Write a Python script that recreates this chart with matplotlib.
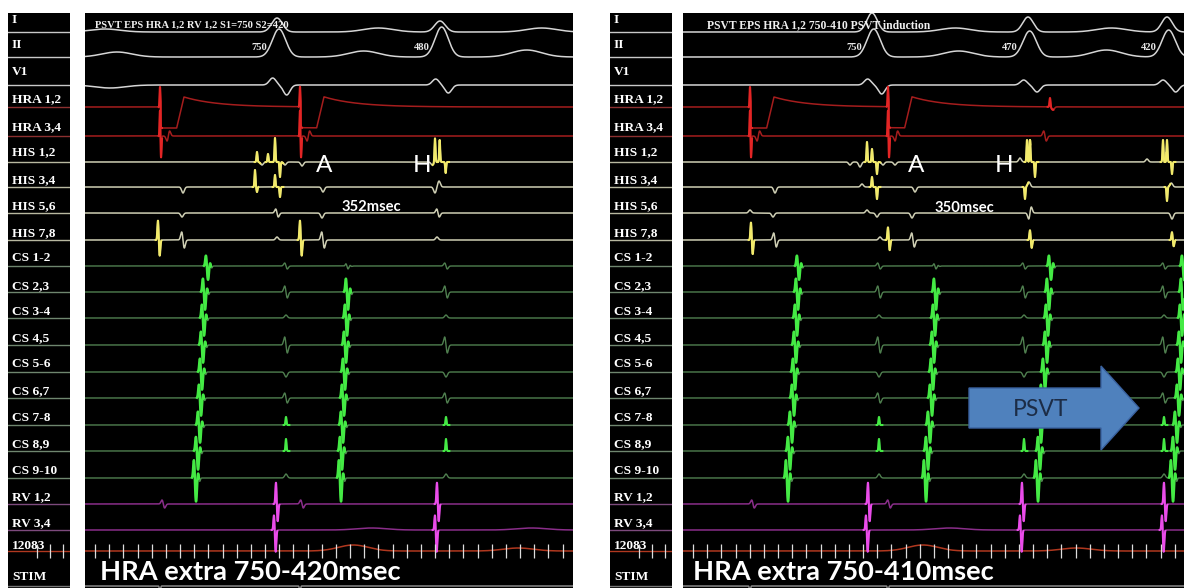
import numpy as np
import matplotlib
matplotlib.use("Agg")
import matplotlib.pyplot as plt
from matplotlib.patches import FancyArrow

# ------------------------------------------------------------------ data
CHANNELS = ["I", "II", "V1", "HRA 1,2", "HRA 3,4", "HIS 1,2", "HIS 3,4", "HIS 5,6",
            "HIS 7,8", "CS 1-2", "CS 2,3", "CS 3-4", "CS 4,5", "CS 5-6", "CS 6,7",
            "CS 7-8", "CS 8,9", "CS 9-10", "RV 1,2", "RV 3,4", "12083", "STIM"]

# ---- left sweep (HRA 1,2 S1=750 / S2=420), times in ms from sweep start
L_TITLE = "PSVT EPS HRA 1,2 RV 1,2 S1=750 S2=420"
L_CAPTION = "HRA extra 750-420msec"
L_INTERVAL = "352msec"
L_QRS_MS = [576, 1065]
L_QRS_LABELS = ["750", "480"]
L_I = [(60, 'T', 3), (576, 'q', 14), (880, 'T', 4), (1065, 'q', 11), (1370, 'T', 4)]
L_II = [(96, 'T', 5), (582, 'Q', 28), (836, 'T', 6), (1070, 'Q', 30), (1325, 'T', 7)]
L_V1 = [(75, 'T', -3), (563, 'G', 7), (605, 'G', -10), (1052, 'G', 6), (1090, 'G', -8)]
L_HRA12 = [(225, 'hra', 20), (645, 'hra', 20)]
L_HRA34 = [(225, 'hra2', 28), (645, 'hra2', 28)]
L_HIS12 = [(516, 'spk', 10), (531, 'g', -3), (549, 'spk', 8), (570, 'spk', 24),
           (585, 'spk', -15), (600, 'g', -3), (651, 'g', -4), (1042, 'g', -3),
           (1050, 'spk', 24), (1064, 'spk', 22), (1082, 'spk', -11)]
L_HIS34 = [(294, 'g', -6), (510, 'spk', 17), (516, 'spk', -5), (570, 'spk', 12),
           (585, 'spk', -10), (714, 'g', -5), (1050, 'g', -6), (1062, 'g', 6)]
L_HIS56 = [(291, 'g', -4), (576, 'bi', 4), (711, 'g', -5), (1059, 'bi', 4)]
L_HIS78 = [(219, 'sp', 20), (294, 'bi', 8), (576, 'g', 3), (645, 'sp', 20),
           (714, 'bi', 8), (1056, 'g', 3)]
L_CS_A_MS = [[366, 357, 354, 351, 348, 345, 342, 336, 330],
             [786, 786, 783, 780, 777, 774, 771, 768, 765]]
L_CS_A_AMP = [[14, 18, 18, 18, 18, 18, 18, 19, 24],
              [3, 18, 18, 18, 18, 18, 18, 19, 24]]
L_CS_FF_MS = [603, 1083]
L_RV12 = [(235, 'bi', 4), (573, 'sp', 22), (651, 'bi', 4), (1056, 'sp', 22)]
L_RV34 = [(567, 'spd', 22), (860, 'T', 2), (1050, 'spd', 22), (1340, 'T', 2)]
L_TICKROW = [(805, 'T', 6), (1300, 'T', 3)]
L_STIM = [(225, 'spk', -8), (645, 'spk', -8)]

# ---- right sweep (HRA 1,2 750-410, PSVT induction)
R_TITLE = "PSVT EPS HRA 1,2 750-410 PSVT induction"
R_CAPTION = "HRA extra 750-410msec"
R_INTERVAL = "350msec"
R_QRS_MS = [567, 1035, 1452]
R_QRS_LABELS = ["750", "470", "420"]
R_I = [(567, 'q', 19), (817, 'T', 4), (1035, 'q', 15), (1285, 'T', 4), (1452, 'q', 15)]
R_II = [(572, 'Q', 28), (827, 'T', 6), (1040, 'Q', 26), (1270, 'T', 7), (1457, 'Q', 27)]
R_V1 = [(554, 'G', 6), (596, 'G', -9), (1022, 'G', 5), (1062, 'G', -7),
        (1440, 'G', 5), (1478, 'G', -7)]
R_HRA12 = [(201, 'hra', 20), (615, 'hra', 20), (1101, 'spk', 9), (1110, 'g', -3)]
R_HRA34 = [(201, 'hra2', 28), (615, 'hra2', 28), (1086, 'bi', 5)]
R_HIS12 = [(501, 'g', -3), (531, 'g', -5), (552, 'spk', 20), (567, 'spk', 13),
           (582, 'spk', -12), (600, 'g', -3), (636, 'g', -3), (1011, 'g', 4),
           (1032, 'spk', 22), (1041, 'spk', 22), (1056, 'spk', -15), (1392, 'g', 3),
           (1440, 'spk', 22), (1452, 'spk', 22), (1467, 'spk', -12)]
R_HIS34 = [(276, 'g', -6), (537, 'g', 3), (567, 'spk', 10), (582, 'spk', -12),
           (696, 'g', -5), (1026, 'spk', -12), (1038, 'g', 5), (1452, 'spk', -14),
           (1465, 'g', 4)]
R_HIS56 = [(201, 'g', 3), (270, 'g', -4), (552, 'g', 3), (582, 'g', -4), (687, 'g', -5),
           (1041, 'bi', -6), (1467, 'g', -6)]
R_HIS78 = [(204, 'sp', 18), (276, 'bi', 7), (591, 'g', 3), (615, 'sp', 13),
           (690, 'bi', 7), (1041, 'sp', 10), (1467, 'sp', 8)]
R_CS_A_MS = [[345, 342, 339, 336, 333, 330, 324, 318, 312],
             [756, 756, 753, 750, 747, 744, 738, 732, 726],
             [1101, 1095, 1092, 1089, 1083, 1077, 1071, 1068, 1062],
             [1500, 1497, 1494, 1491, 1488, 1485, 1479, 1473, 1467]]
R_CS_A_AMP = [[14, 18, 18, 18, 18, 18, 18, 19, 24],
              [3, 18, 18, 18, 18, 18, 18, 19, 24],
              [14, 18, 18, 18, 18, 18, 18, 19, 24],
              [14, 18, 18, 18, 18, 18, 18, 19, 24]]
R_CS_FF_MS = [588, 1023, 1443]
R_RV12 = [(210, 'bi', 4), (555, 'sp', 22), (618, 'bi', 4), (1017, 'sp', 22), (1443, 'sp', 22)]
R_RV34 = [(549, 'spd', 22), (800, 'T', 2), (1011, 'spd', 22), (1437, 'spd', 22)]
R_TICKROW = [(720, 'T', 6), (1180, 'T', 3)]
R_STIM = [(201, 'spk', -8), (615, 'spk', -8)]

# far-field ventricular deflection on each CS bipole (shape, amplitude)
CS_FF_SHAPE = [('bi', 3), ('bi', 6), ('g', 3), ('bi', 8), ('g', -5),
               ('bi', 5), ('spk', 8), ('spk', 12), ('g', 4)]
TICK_STEP_MS = 42.5

# ------------------------------------------------------------------ layout / style
W, H = 1184, 588
BASE_Y = [32, 57, 85, 107, 136, 162, 187, 213, 240, 266, 292, 318, 345, 372,
          398, 425, 451, 478, 504, 530, 551, 586]
LABEL_Y = [20, 45, 72, 99, 127, 152, 180, 206, 233, 258, 286, 312, 338, 364,
           391, 418, 444, 471, 497, 523, 546, 577]
GROUP = ['ecg'] * 3 + ['hra'] * 2 + ['his'] * 4 + ['cs'] * 9 + ['rv'] * 2 + ['tick', 'stim']
BASE_COL = {'ecg': '#d6d6d6', 'hra': '#a51d1d', 'his': '#cfcfb4', 'cs': '#4f7f4f',
            'rv': '#8a2e8a', 'tick': '#b0381f', 'stim': '#8a8a8a'}
BRIGHT_COL = {'ecg': '#ffffff', 'hra': '#e32525', 'his': '#f2ea6a', 'cs': '#44ea44',
              'rv': '#ea4cea', 'tick': '#b0381f', 'stim': '#bbbbbb'}
BOX_COL = {'ecg': '#c8c8c8', 'hra': '#8c3030', 'his': '#b8b8a0', 'cs': '#6f866f',
           'rv': '#7d4a7d', 'tick': '#b0381f', 'stim': '#777777'}

DT = 0.25


def shape(tt, t0, kind, a):
    d = tt - t0

    def g(s, c=0.0):
        return np.exp(-0.5 * ((d - c) / s) ** 2)

    if kind == 'q':
        return a * g(16)
    if kind == 'Q':
        return a * g(20)
    if kind == 'T':
        return a * g(45)
    if kind == 'G':
        return a * g(10)
    if kind == 'g':
        return a * g(4)
    if kind == 'bi':
        return a * (-(d / 4.0)) * np.exp(0.5) * g(4)
    if kind == 'spk':
        return a * g(1.5)
    if kind == 'sp':
        return a * g(1.8) - 0.8 * a * g(2.0, 5)
    if kind == 'spd':
        return 0.7 * a * g(1.8) - a * g(2.0, 5)
    if kind == 'big':
        return (0.8 * a * g(2.2, -3) - a * g(2.6, 3) + 0.25 * a * g(2, 9)
                - 0.15 * a * g(2, 14))
    if kind == 'hra':
        y = a * g(1.2)
        pl = (d > 2) & (d <= 50)
        y = y - np.where(pl, 1.05 * a, 0.0)
        rp = (d > 50) & (d <= 72)
        y = y + np.where(rp, -1.05 * a + (d - 50) / 22.0 * 1.55 * a, 0.0)
        tl = d > 72
        y = y + np.where(tl, 0.5 * a * np.exp(-np.clip(d - 72, 0, None) / 100.0), 0.0)
        return y
    if kind == 'hra2':
        return a * g(1.2) - 0.8 * a * g(1.5, 3) + shape(tt, t0 + 25, 'bi', -5)
    return 0 * d


def is_bright(kind, a):
    return kind in ('hra', 'hra2') or (kind in ('spk', 'sp', 'spd', 'big') and abs(a) >= 8)


def panel_events(I, II, V1, HRA12, HRA34, HIS12, HIS34, HIS56, HIS78,
                 cs_ms, cs_amp, cs_ff, RV12, RV34, TICK, STIM):
    ev = [I, II, V1, HRA12, HRA34, HIS12, HIS34, HIS56, HIS78]
    for ci in range(9):
        lst = []
        for b in range(len(cs_ms)):
            lst.append((cs_ms[b][ci], 'big', cs_amp[b][ci]))
        for tf in cs_ff:
            lst.append((tf, CS_FF_SHAPE[ci][0], CS_FF_SHAPE[ci][1]))
        ev.append(lst)
    ev += [RV12, RV34, TICK, STIM]
    return ev


def px_axes(fig, x0, y0, x1, y1, **kw):
    return fig.add_axes([x0 / W, 1 - y1 / H, (x1 - x0) / W, (y1 - y0) / H], **kw)


def draw_traces(ax, tmax, events):
    tt = np.arange(0, tmax + DT, DT)
    ax.set_facecolor('black')
    ax.set_xlim(0, tmax)
    ax.set_ylim(H, 13)
    ax.set_xticks([]); ax.set_yticks([])
    for sp in ax.spines.values():
        sp.set_visible(False)
    for i, evs in enumerate(events):
        grp = GROUP[i]
        sig = np.zeros_like(tt)
        for (t0, kind, a) in evs:
            sig += shape(tt, t0, kind, a)
        y = BASE_Y[i] - sig
        lw = 1.1 if grp != 'cs' else 1.0
        ax.plot(tt, y, color=BASE_COL[grp], lw=lw, zorder=2)
        for (t0, kind, a) in evs:
            if is_bright(kind, a) and grp != 'stim':
                if kind in ('hra', 'hra2'):
                    lo, hi, blw = t0 - 4, t0 + 6, 1.5
                elif kind == 'big':
                    lo, hi, blw = t0 - 9, t0 + 12, 1.8
                else:
                    lo, hi, blw = t0 - 7, t0 + 10, 1.5
                m = (tt >= lo) & (tt <= hi)
                ax.plot(tt[m], y[m], color=BRIGHT_COL[grp], lw=blw, zorder=3)
    # timing marks on the 12083 row
    ticks = np.arange(30, tmax, TICK_STEP_MS)
    yb = BASE_Y[20]
    ax.vlines(ticks, yb - 7, yb + 7, color='#dcdcdc', lw=0.9, zorder=4)


def draw_label_box(ax):
    ax.set_facecolor('black')
    ax.set_xlim(0, 62)
    ax.set_ylim(H, 13)
    ax.set_xticks([]); ax.set_yticks([])
    for sp in ax.spines.values():
        sp.set_visible(False)
    for i, name in enumerate(CHANNELS):
        grp = GROUP[i]
        ax.axhline(BASE_Y[i], color=BOX_COL[grp], lw=1.0)
        ax.text(4, LABEL_Y[i], name, color='white', fontsize=9.6, fontweight='bold',
                family='Liberation Serif', va='center', ha='left')
    ax.vlines([29, 42, 55], BASE_Y[20] - 7, BASE_Y[20] + 7, color='#dcdcdc', lw=0.9)


fig = plt.figure(figsize=(W / 100, H / 100), dpi=100, facecolor='white')

PANELS = [
    dict(box=(8, 70), tr=(85, 573),
         ev=panel_events(L_I, L_II, L_V1, L_HRA12, L_HRA34, L_HIS12, L_HIS34, L_HIS56,
                         L_HIS78, L_CS_A_MS, L_CS_A_AMP, L_CS_FF_MS, L_RV12, L_RV34,
                         L_TICKROW, L_STIM)),
    dict(box=(610, 672), tr=(683, 1184),
         ev=panel_events(R_I, R_II, R_V1, R_HRA12, R_HRA34, R_HIS12, R_HIS34, R_HIS56,
                         R_HIS78, R_CS_A_MS, R_CS_A_AMP, R_CS_FF_MS, R_RV12, R_RV34,
                         R_TICKROW, R_STIM)),
]
MS_PER_PX = 3.0
for p in PANELS:
    axb = px_axes(fig, p['box'][0], 13, p['box'][1], H)
    draw_label_box(axb)
    x0, x1 = p['tr']
    axt = px_axes(fig, x0, 13, x1, H)
    draw_traces(axt, (x1 - x0) * MS_PER_PX, p['ev'])
    p['ax'] = axt

# ------------------------------------------------------------------ annotations
ov = fig.add_axes([0, 0, 1, 1])
ov.set_xlim(0, W); ov.set_ylim(H, 0)
ov.axis('off'); ov.patch.set_alpha(0)

serif = dict(family='Liberation Serif', fontweight='bold', color='#f0f0f0')
ov.text(95, 25, L_TITLE, fontsize=7.6, va='center', ha='left', **serif)
ov.text(707, 25, R_TITLE, fontsize=8.4, va='center', ha='left', **serif)

for ax, qrs, labs in [(PANELS[0]['ax'], L_QRS_MS, L_QRS_LABELS),
                      (PANELS[1]['ax'], R_QRS_MS, R_QRS_LABELS)]:
    for t, lab in zip(qrs, labs):
        ax.text(t - 30, 48, lab, fontsize=7.6, va='center', ha='right',
                family='Liberation Serif', fontweight='bold', color='#e8e8e8', zorder=5)

sans = dict(family='Lato', color='white')
for x, s in [(324, 'A'), (422, 'H'), (916, 'A'), (1004, 'H')]:
    ov.text(x, 165, s, fontsize=17.5, va='center', ha='center', **sans)
ov.text(371, 207, L_INTERVAL, fontsize=10.6, fontweight='bold', va='center', ha='center', **sans)
ov.text(964, 208, R_INTERVAL, fontsize=10.6, fontweight='bold', va='center', ha='center', **sans)

ov.text(100, 572, L_CAPTION, fontsize=19.6, fontweight='bold', va='center', ha='left', **sans)
ov.text(693, 572, R_CAPTION, fontsize=19.6, fontweight='bold', va='center', ha='left', **sans)

arr = FancyArrow(969, 408, 170, 0, width=40, head_width=84, head_length=38,
                 length_includes_head=True, fc='#4f81bd', ec='#3a62a0', lw=1.0, zorder=6)
ov.add_patch(arr)
ov.text(1041, 409, 'PSVT', fontsize=16.5, va='center', ha='center', family='Lato',
        color='#1c2c46', zorder=7)

fig.savefig('out.png', dpi=100, facecolor='white')
